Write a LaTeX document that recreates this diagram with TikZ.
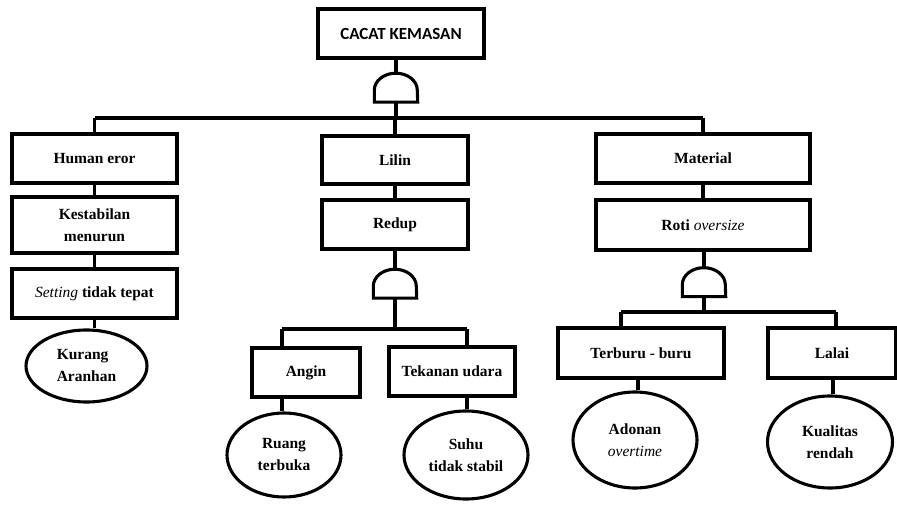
\documentclass[tikz,border=0pt]{standalone}
\usepackage{fontspec}
\setmainfont{Liberation Serif}
\newfontfamily\calib{Carlito}
\usetikzlibrary{shapes.geometric}
\tikzset{
  lw/.style={line width=3.1pt},
  box/.style={draw, lw, rectangle, inner sep=0pt, align=center,
    font=\fontsize{15.5}{22}\selectfont\bfseries},
  oval/.style={draw, lw, ellipse, inner sep=0pt, align=center,
    font=\fontsize{15.5}{22}\selectfont\bfseries},
  gatebox/.style={inner sep=0pt, minimum width=43pt, minimum height=29pt},
  conn/.style={lw}
}
\newcommand{\andgate}[1]{%
  \draw[lw] (#1.south west) -- ++(0,-12) arc[start angle=180,end angle=360,x radius=21.5,y radius=17] -- (#1.south east) -- cycle;}
\begin{document}
\begin{tikzpicture}[x=1pt,y=-1pt]
\useasboundingbox (0,0) rectangle (897,510);
% top
\node[box, minimum width=166pt, minimum height=49pt, font=\fontsize{17}{20}\selectfont\calib\bfseries] (top) at (401,33.5) {CACAT KEMASAN};
\node[gatebox] (g1) at (396,87.5) {};
\andgate{g1}
% level 1
\node[box, minimum width=165pt, minimum height=49pt] (hum) at (94.5,158.5) {Human eror};
\node[box, minimum width=146pt, minimum height=48pt] (lil) at (395,160) {Lilin};
\node[box, minimum width=214pt, minimum height=49pt] (mat) at (703,158.5) {Material};
\coordinate (b1L) at (94.5,118);
\coordinate (b1R) at (703,118);
\draw[conn] (g1.north) -- (g1.north |- top.south);
\draw[conn] (b1L) -- (b1R);
\draw[conn] (b1L) -- (hum.north);
\draw[conn] (b1R) -- (mat.north);
\draw[conn] (g1.south) -- (g1.south |- b1L);
\draw[conn] (lil.north) -- (lil.north |- b1L);
% left column
\node[box, minimum width=165pt, minimum height=56pt] (kes) at (94.5,225) {Kestabilan\\menurun};
\node[box, minimum width=165pt, minimum height=49pt] (set) at (94.5,293.5) {\textmd{\itshape Setting} tidak tepat};
\node[oval, minimum width=121pt, minimum height=72pt, align=left] (kur) at (86.5,366) {Kurang\\Aranhan};
\draw[conn] (hum.south) -- (kes.north);
\draw[conn] (kes.south) -- (set.north);
\draw[conn] (set.south) -- (set.south |- kur.north);
% middle column
\node[box, minimum width=146pt, minimum height=49pt] (red) at (395,224.5) {Redup};
\draw[conn] (lil.south) -- (red.north);
\node[gatebox] (g2) at (395,283.5) {};
\andgate{g2}
\draw[conn] (red.south) -- (g2.north);
\coordinate (b2L) at (282,329);
\coordinate (b2R) at (467,329);
\node[box, minimum width=108pt, minimum height=49pt] (ang) at (306,372.5) {Angin};
\node[box, minimum width=126pt, minimum height=49pt] (tek) at (452,371.5) {Tekanan udara};
\draw[conn] (g2.south) -- (g2.south |- b2L);
\draw[conn] (b2L) -- (b2R);
\draw[conn] (b2L) -- (b2L |- ang.north);
\draw[conn] (b2R) -- (b2R |- tek.north);
\node[oval, minimum width=114pt, minimum height=84pt] (rua) at (284,455) {Ruang\\terbuka};
\node[oval, minimum width=124pt, minimum height=88pt] (suh) at (466,455) {Suhu\\tidak stabil};
\draw[conn] (b2L |- ang.south) -- (b2L |- rua.north);
\draw[conn] (b2R |- tek.south) -- (b2R |- suh.north);
% right column
\node[box, minimum width=214pt, minimum height=50pt] (rot) at (703,225) {Roti \textmd{\itshape oversize}};
\draw[conn] (mat.south) -- (rot.north);
\node[gatebox] (g3) at (704,282) {};
\andgate{g3}
\draw[conn] (g3.north) -- (g3.north |- rot.south);
\coordinate (b3L) at (621,312);
\coordinate (b3R) at (836,312);
\node[box, minimum width=166pt, minimum height=50pt] (ter) at (641,353) {Terburu - buru};
\node[box, minimum width=128pt, minimum height=50pt] (lal) at (832,353) {Lalai};
\draw[conn] (g3.south) -- (g3.south |- b3L);
\draw[conn] (b3L) -- (b3R);
\draw[conn] (b3L) -- (b3L |- ter.north);
\draw[conn] (b3R) -- (b3R |- lal.north);
\node[oval, minimum width=124pt, minimum height=96pt] (ado) at (635,440) {Adonan\\\textmd{\itshape overtime}};
\node[oval, minimum width=125pt, minimum height=92pt] (kua) at (830,442) {Kualitas\\rendah};
\draw[conn] (ter.south -| 638,0) -- (ado.north -| 638,0);
\draw[conn] (lal.south -| 833,0) -- (kua.north -| 833,0);
\end{tikzpicture}
\end{document}
